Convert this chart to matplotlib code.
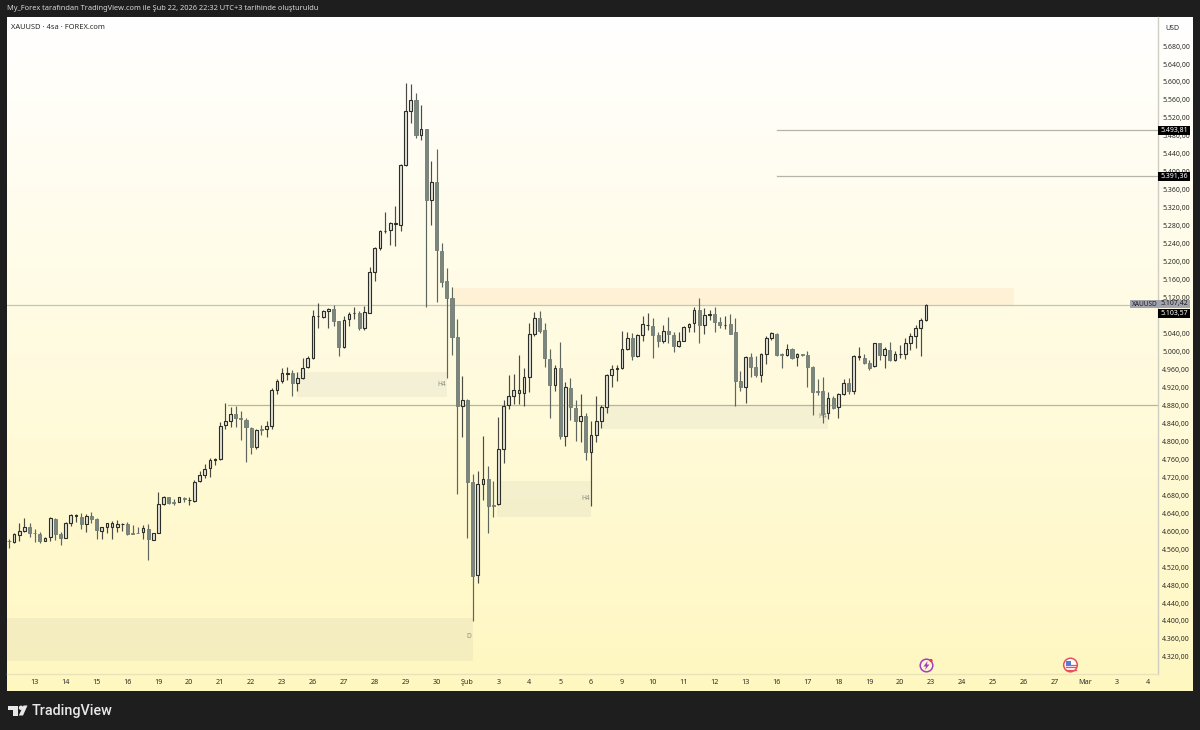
import numpy as np
import matplotlib
matplotlib.use("Agg")
import matplotlib.pyplot as plt
from matplotlib.patches import Circle, Polygon, Rectangle

plt.rcParams['font.family'] = ['Noto Sans', 'DejaVu Sans']

# one row per 4-hour candle: open, high, low, close
candles = [
(4579,4582,4562,4577),(4576,4597,4573,4593),(4592,4618,4577,4601),(4600,4629,4599,4609),(4609,4618,4588,4597),
(4597,4605,4575,4595),(4593,4599,4573,4579),(4579,4588,4577,4585),(4586,4632,4577,4629),(4628,4629,4580,4593),
(4593,4598,4569,4585),(4585,4621,4584,4619),(4619,4638,4612,4635),(4633,4638,4621,4635),(4631,4640,4605,4616),
(4617,4638,4598,4634),(4634,4642,4618,4626),(4626,4629,4582,4602),(4601,4610,4582,4609),(4609,4619,4597,4618),
(4610,4623,4582,4618),(4610,4624,4599,4615),(4616,4619,4601,4617),(4616,4620,4591,4593),(4596,4614,4593,4594),
(4597,4610,4596,4596),(4598,4614,4582,4606),(4605,4615,4536,4582),(4580,4597,4580,4595),(4595,4688,4595,4660),
(4660,4678,4658,4676),(4676,4677,4660,4662),(4665,4671,4658,4663),(4665,4677,4664,4675),(4674,4675,4666,4671),
(4669,4675,4659,4670),(4667,4714,4666,4710),(4711,4735,4710,4724),(4725,4750,4718,4739),(4740,4764,4721,4758),
(4759,4764,4747,4761),(4761,4842,4758,4835),(4836,4886,4827,4846),(4846,4876,4833,4860),(4860,4879,4833,4851),
(4851,4868,4802,4849),(4848,4851,4755,4831),(4830,4831,4771,4788),(4787,4827,4784,4825),(4827,4837,4814,4825),
(4828,4846,4809,4834),(4834,4918,4827,4914),(4914,4939,4905,4934),(4934,4964,4929,4953),(4951,4965,4937,4952),
(4952,4959,4900,4929),(4929,4955,4911,4941),(4941,4986,4938,4964),(4965,4989,4964,4986),(4985,5092,4983,5080),
(5079,5109,5052,5080),(5077,5092,5074,5090),(5090,5096,5053,5095),(5095,5104,5057,5069),(5067,5069,4990,5009),
(5009,5078,5007,5070),(5072,5089,5057,5084),(5085,5098,5072,5086),(5085,5091,5047,5052),(5052,5102,5048,5087),
(5086,5189,5085,5176),(5178,5233,5157,5231),(5231,5271,5226,5269),(5268,5311,5263,5269),(5270,5289,5237,5285),
(5283,5325,5235,5285),(5282,5417,5269,5415),(5415,5597,5414,5535),(5535,5595,5508,5561),(5560,5575,5475,5482),
(5482,5549,5471,5495),(5495,5496,5098,5337),(5337,5425,5282,5377),(5377,5450,5111,5225),(5224,5241,5144,5154),
(5156,5185,4940,5118),(5118,5144,4992,5032),(5032,5072,4683,4879),(4879,4946,4809,4892),(4892,4894,4584,4710),
(4709,4727,4401,4501),(4503,4733,4484,4704),(4704,4811,4670,4717),(4717,4744,4595,4656),(4658,4712,4631,4656),
(4660,4855,4658,4782),(4782,4892,4751,4879),(4880,4948,4871,4900),(4901,4950,4883,4915),(4908,4993,4883,4914),
(4908,4963,4879,4944),(4944,5064,4909,5039),(5039,5089,5035,5075),(5075,5091,5042,5046),(5047,5063,4966,4985),
(4984,5006,4851,4926),(4926,4970,4913,4964),(4964,5022,4805,4811),(4811,4933,4790,4920),(4919,4942,4848,4876),
(4875,4892,4801,4846),(4846,4906,4799,4857),(4857,4864,4759,4776),(4776,4845,4655,4814),(4814,4901,4799,4845),
(4845,4881,4829,4877),(4877,4949,4862,4947),(4947,4970,4922,4960),(4962,4970,4935,4963),(4963,5046,4960,5005),
(5005,5043,5003,5029),(5029,5042,4981,4990),(4989,5038,4988,5037),(5037,5080,5023,5061),(5058,5085,5048,5060),
(5056,5074,4986,5037),(5037,5043,5011,5023),(5023,5059,5020,5045),(5045,5076,5018,5038),(5037,5044,4998,5012),
(5012,5043,5009,5023),(5024,5057,5023,5054),(5055,5064,5043,5062),(5063,5098,5044,5092),(5092,5118,5018,5058),
(5058,5096,5038,5081),(5082,5092,5070,5083),(5083,5098,5044,5065),(5065,5076,5052,5059),(5059,5078,5050,5060),
(5061,5083,5039,5040),(5043,5074,4879,4934),(4934,4957,4911,4921),(4921,4991,4885,4988),(4987,4996,4944,4966),
(4966,4989,4944,4948),(4948,4996,4933,4994),(4995,5035,4973,5031),(5029,5044,5026,5041),(5040,5042,4991,4992),
(4994,4996,4964,4993),(4992,5016,4990,5005),(5006,5007,4983,4985),(4987,4996,4968,4994),(4994,4994,4991,4992),
(4992,5000,4922,4966),(4966,4967,4859,4909),(4911,4939,4903,4909),(4911,4943,4840,4860),(4862,4909,4849,4897),
(4897,4900,4872,4875),(4877,4907,4853,4905),(4905,4939,4903,4929),(4929,4940,4906,4911),(4912,4992,4905,4990),
(4988,5009,4981,4989),(4986,4994,4972,4975),(4975,4981,4959,4964),(4967,5019,4966,5018),(5018,5020,4981,4992),
(4992,5011,4964,5005),(5004,5021,4978,4980),(4980,5000,4978,4995),(4994,5015,4985,4995),(4995,5029,4983,5020),
(5019,5041,5003,5034),(5034,5059,5007,5053),(5053,5074,4989,5070),(5070,5106,5069,5104),
]

# 5.080,00 sits fully behind the last-price tag in the reference
price_ticks = [p for p in range(5680, 4280, -40) if p != 5080]
date_labels = ['13','14','15','16','19','20','21','22','23','26','27','28','29','30','Şub','3','4','5','6',
               '9','10','11','12','13','16','17','18','19','20','23','24','25','26','27','Mar','3','4']
bars_per_day = 6
first_tick_bar = 5

# zones: first bar, last bar, top price, bottom price
orange_zone = (86.4, 195.0, 5141, 5104)
grey_zones = [(56.0, 85.0, 4954, 4899), (94.7, 113.0, 4712, 4632),
              (115.0, 159.0, 4881, 4828), (-0.4, 90.0, 4407, 4311)]
zone_tags = [(84.0, 4927, 'H4'), (112.0, 4672, 'H4'), (158.0, 4855, 'H4'), (89.2, 4366, 'D')]
levels = [(149.0, 5493.81), (149.0, 5391.36), (42.5, 4881.17), (-0.4, 5103.57)]

W, H = 1200, 730
fig = plt.figure(figsize=(12, 7.3), dpi=100, facecolor='#1e1e1e')

def pane(x0, y0, x1, y1):
    return fig.add_axes([x0 / W, 1 - y1 / H, (x1 - x0) / W, (y1 - y0) / H])

# gradient background for the whole pane
bg = pane(7, 17, 1193, 691)
top_c = np.array([255, 255, 255]) / 255
bot_c = np.array([255, 247, 192]) / 255
t = np.linspace(0, 1, 256)[:, None, None]
bg.imshow(top_c * (1 - t) + bot_c * t, aspect='auto', extent=(0, 1, 0, 1))
bg.axis('off')

# price pane
ax = pane(7, 17, 1158, 674)
ax.patch.set_alpha(0)
ax.set_xlim(-0.39, 223.05)
ax.set_ylim(4282, 5744.7)
for s in ax.spines.values():
    s.set_visible(False)
ax.spines['right'].set_visible(True)
ax.spines['bottom'].set_visible(True)
ax.spines['right'].set_color('#cfcec3')
ax.spines['bottom'].set_color('#e8e3b8')
ax.spines['right'].set_linewidth(1)
ax.spines['bottom'].set_linewidth(1)

x0, x1, t0, b0 = orange_zone
ax.add_patch(Rectangle((x0, b0), x1 - x0, t0 - b0, fc='#f7a04a', alpha=0.10, ec='none', zorder=1))
for x0, x1, t0, b0 in grey_zones:
    ax.add_patch(Rectangle((x0, b0), x1 - x0, t0 - b0, fc='#8a8f96', alpha=0.09, ec='none', zorder=1))
for x, y, s in zone_tags:
    ax.text(x, y, s, fontsize=4.8, color='#8e8e86', ha='center', va='center', zorder=2)

for (start, lev), col in zip(levels, ['#b4b4a8', '#b4b4a8', '#b4b4a8', '#c4c4ba']):
    ax.plot([start, 223.05], [lev, lev], color=col, lw=0.9, zorder=2)

o = np.array([c[0] for c in candles], float)
h = np.array([c[1] for c in candles], float)
l = np.array([c[2] for c in candles], float)
c_ = np.array([c[3] for c in candles], float)
idx = np.arange(len(candles))
up = c_ >= o
ax.vlines(idx[up], l[up], h[up], color='#4a4c44', lw=0.85, zorder=3)
ax.vlines(idx[~up], l[~up], h[~up], color='#5d665e', lw=0.85, zorder=3)
ax.bar(idx[up], np.abs(c_ - o)[up], bottom=np.minimum(o, c_)[up], width=0.52,
       fc='#e3e2da', ec='#2b2d27', lw=0.8, zorder=4)
ax.bar(idx[~up], np.abs(c_ - o)[~up], bottom=np.minimum(o, c_)[~up], width=0.6,
       fc='#7b867e', ec='#6f7a72', lw=0.6, zorder=4)

ax.yaxis.tick_right()
ax.set_yticks(price_ticks)
ax.set_yticklabels([f"{p // 1000}.{p % 1000:03d},00" for p in price_ticks],
                   fontsize=5.0, color='#2c2e29')
ax.tick_params(axis='y', length=0, pad=3)
ax.set_xticks(np.arange(len(date_labels)) * bars_per_day + first_tick_bar)
ax.set_xticklabels(date_labels, fontsize=5.2, color='#2c2e29')
for lab in ax.get_xticklabels():
    if lab.get_text() in ('Şub', 'Mar'):
        lab.set_fontweight('bold')
ax.tick_params(axis='x', length=0, pad=3.5)

# overlay in picture pixels for header, price tags, icons and logo
ov = fig.add_axes([0, 0, 1, 1], zorder=10)
ov.set_xlim(0, W)
ov.set_ylim(H, 0)
ov.axis('off')
ov.patch.set_alpha(0)

ov.text(7, 9, 'My_Forex tarafından TradingView.com ile Şub 22, 2026 22:32 UTC+3 tarihinde oluşturuldu',
        fontsize=5.35, color='#d8d8d8', va='center')
ov.text(11, 27.5, 'XAUUSD · 4sa · FOREX.com', fontsize=5.4, color='#2a2c28', va='center')
ov.text(1165.5, 28.5, 'USD', fontsize=5.1, color='#2a2c28', va='center')

def tag(x0, x1, y0, y1, s, fc='black', tc='white'):
    ov.add_patch(Rectangle((x0, y0), x1 - x0, y1 - y0, fc=fc, ec='none'))
    ov.text(x1 - 2, (y0 + y1) / 2, s, fontsize=5.0, color=tc, ha='right', va='center')

tag(1158, 1190, 126, 134.5, '5.493,81')
tag(1158, 1190, 172, 181, '5.391,36')
tag(1129.5, 1190, 300, 308, '5.107,42', fc='#a3a5ae', tc='#1c1c1c')
ov.text(1132, 304, 'XAUUSD', fontsize=4.7, color='#1c1c1c', va='center')
tag(1158, 1190, 309, 317.5, '5.103,57')

# event icons on the time line
ov.add_patch(Circle((926.5, 665.5), 6.3, fc='#fff7d0', ec='#a23fc4', lw=1.1))
ov.add_patch(Polygon([(927.5, 661), (923.5, 666.5), (926, 666.5), (925, 670), (929.5, 664.5), (927, 664.5)],
                     fc='#a23fc4', ec='none'))
ov.add_patch(Circle((931, 660.5), 1.6, fc='#f23645', ec='none'))
ov.add_patch(Circle((1070.5, 665), 6.8, fc='#ffffff', ec='#e8505b', lw=1.1))
for yy in (664.5, 667, 669.5):
    ov.plot([1065.5, 1075.5], [yy, yy], color='#e8505b', lw=0.9)
ov.add_patch(Rectangle((1065.5, 660.5), 5.5, 5.5, fc='#4c7fd8', ec='none'))

# TradingView logo
logo = '#e8e8e8'
ov.add_patch(Polygon([(8, 705.5), (18, 705.5), (18, 715.5), (13, 715.5), (13, 710), (8, 710)], fc=logo, ec='none'))
ov.add_patch(Circle((21, 707.8), 2.2, fc=logo, ec='none'))
ov.add_patch(Polygon([(23.5, 705.5), (27.5, 705.5), (23, 715.5), (18.8, 715.5)], fc=logo, ec='none'))
ov.text(32, 710.5, 'TradingView', fontsize=10.4, color=logo, va='center', family='Roboto', fontweight='medium')

fig.savefig('out.png', dpi=100, facecolor=fig.get_facecolor())
